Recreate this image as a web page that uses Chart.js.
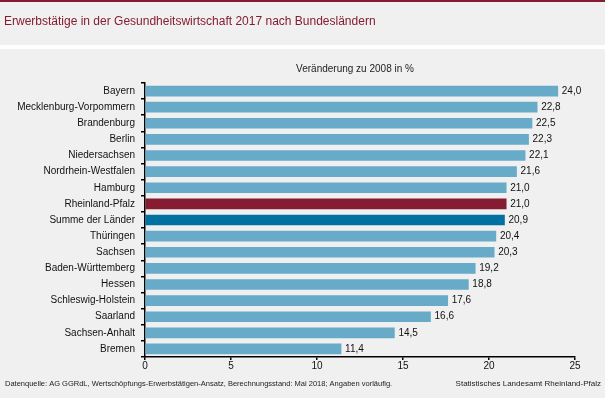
<!DOCTYPE html>
<html>
<head>
<meta charset="utf-8">
<script src="https://cdn.jsdelivr.net/npm/chart.js@4"></script>
<style>
  html, body { margin: 0; padding: 0; background: #eff0ef; }
  #wrap { width: 605px; height: 398px; position: relative; }
</style>
</head>
<body>
<div id="wrap"><canvas id="chart" width="605" height="398"></canvas></div>
<script>
const laender = ['Bayern', 'Mecklenburg-Vorpommern', 'Brandenburg', 'Berlin', 'Niedersachsen',
  'Nordrhein-Westfalen', 'Hamburg', 'Rheinland-Pfalz', 'Summe der Länder', 'Thüringen', 'Sachsen',
  'Baden-Württemberg', 'Hessen', 'Schleswig-Holstein', 'Saarland', 'Sachsen-Anhalt', 'Bremen'];
const veraenderung = [24.0, 22.8, 22.5, 22.3, 22.1, 21.6, 21.0, 21.0, 20.9, 20.4, 20.3, 19.2, 18.8, 17.6, 16.6, 14.5, 11.4];
const xTicks = [0, 5, 10, 15, 20, 25];

const titleText = 'Erwerbstätige in der Gesundheitswirtschaft 2017 nach Bundesländern';
const subTitle = 'Veränderung zu 2008 in %';
const sourceText = 'Datenquelle: AG GGRdL, Wertschöpfungs-Erwerbstätigen-Ansatz, Berechnungsstand: Mai 2018; Angaben vorläufig.';
const publisher = 'Statistisches Landesamt Rheinland-Pfalz';

const barColors = laender.map(l => l === 'Rheinland-Pfalz' ? '#861c32' : (l === 'Summe der Länder' ? '#0071a1' : '#67abc9'));
const fmt = v => v.toFixed(1).replace('.', ',');
const FONT = '"Liberation Sans", Arial, sans-serif';

// background, title band, subtitle, footer
const frame = {
  id: 'frame',
  beforeDraw(chart) {
    const ctx = chart.ctx;
    ctx.save();
    ctx.fillStyle = '#eff0ef';
    ctx.fillRect(0, 0, chart.width, chart.height);
    ctx.fillStyle = '#861c32';
    ctx.fillRect(0, 0, chart.width, 2);
    ctx.fillStyle = '#ffffff';
    ctx.fillRect(0, 45, chart.width, 4);
    ctx.fillStyle = '#861c32';
    ctx.font = '12px ' + FONT;
    ctx.textBaseline = 'middle';
    ctx.fillText(titleText, 4, 22);
    ctx.fillStyle = '#222';
    ctx.font = '10px ' + FONT;
    ctx.textAlign = 'center';
    ctx.fillText(subTitle, 355, 69);
    ctx.font = '7.5px ' + FONT;
    ctx.textAlign = 'left';
    ctx.fillText(sourceText, 5, 384);
    ctx.font = '8px ' + FONT;
    ctx.textAlign = 'right';
    ctx.fillText(publisher, 601, 384);
    ctx.restore();
  }
};

const valueLabels = {
  id: 'valueLabels',
  afterDatasetsDraw(chart) {
    const ctx = chart.ctx;
    const meta = chart.getDatasetMeta(0);
    ctx.save();
    ctx.fillStyle = '#111';
    ctx.font = '10px ' + FONT;
    ctx.textBaseline = 'middle';
    meta.data.forEach((bar, i) => {
      ctx.fillText(fmt(veraenderung[i]), bar.x + 4, bar.y);
    });
    ctx.restore();
  }
};

new Chart(document.getElementById('chart'), {
  type: 'bar',
  data: {
    labels: laender,
    datasets: [{
      data: veraenderung,
      backgroundColor: barColors,
      barThickness: 10
    }]
  },
  options: {
    indexAxis: 'y',
    responsive: false,
    animation: false,
    layout: { padding: { top: 83, right: 30, left: 0, bottom: 0 } },
    plugins: { legend: { display: false }, tooltip: { enabled: false } },
    scales: {
      x: {
        min: 0, max: 25,
        afterBuildTicks: s => { s.ticks = xTicks.map(v => ({ value: v })); },
        afterFit: s => { s.height = 41; },
        border: { color: '#000', width: 1.5 },
        grid: { drawOnChartArea: false, tickLength: 3, color: '#000', lineWidth: 1.5 },
        ticks: { color: '#111', font: { family: FONT, size: 10 }, padding: 0 }
      },
      y: {
        afterFit: s => { s.width = 145; },
        border: { color: '#000', width: 1.5 },
        grid: { drawOnChartArea: false, tickLength: 4, color: '#000', lineWidth: 1.5, offset: true },
        ticks: { color: '#111', font: { family: FONT, size: 10 }, padding: 6 }
      }
    }
  },
  plugins: [frame, valueLabels]
});
</script>
</body>
</html>
